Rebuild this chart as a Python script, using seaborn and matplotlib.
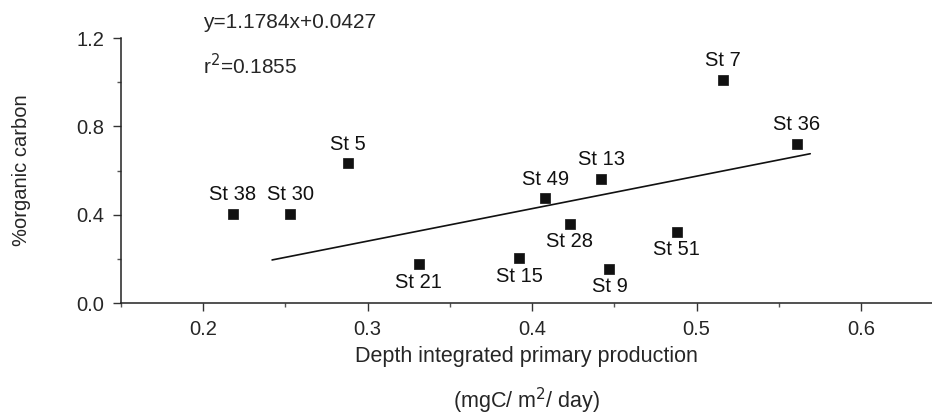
import numpy as np
import pandas as pd
import matplotlib
matplotlib.use("Agg")
import matplotlib.pyplot as plt
import seaborn as sns
from matplotlib.ticker import MultipleLocator

# station data
stations = ["St 38", "St 30", "St 5", "St 21", "St 15", "St 49",
            "St 28", "St 13", "St 9", "St 51", "St 7", "St 36"]
production = [0.218, 0.253, 0.288, 0.331, 0.392, 0.408,
              0.423, 0.442, 0.447, 0.488, 0.516, 0.561]
org_carbon = [0.403, 0.403, 0.633, 0.175, 0.202, 0.474,
              0.359, 0.562, 0.154, 0.321, 1.012, 0.721]
label_side = ["up", "up", "up", "down", "down", "up",
              "down", "up", "down", "down", "up", "up"]

# regression line as drawn in the figure (end points)
fit_x = [0.242, 0.569]
fit_y = [0.195, 0.676]

df = pd.DataFrame({"station": stations, "x": production, "y": org_carbon, "side": label_side})

sns.set_style("ticks")
plt.rcParams['font.family'] = ['Liberation Sans', 'DejaVu Sans']

fig = plt.figure(figsize=(9.32, 4.19), dpi=100)
ax = fig.add_axes([0.1295, 0.2768, 0.8705, 0.6325])

sns.lineplot(x=fit_x, y=fit_y, color="#111111", linewidth=1.2, ax=ax)
sns.scatterplot(data=df, x="x", y="y", marker="s", s=50, color="#111111",
                edgecolor="#111111", linewidth=0.5, ax=ax, zorder=3)

for _, r in df.iterrows():
    if r["side"] == "up":
        ax.annotate(r["station"], (r["x"], r["y"]), xytext=(0, 7), textcoords="offset points",
                    ha="center", va="bottom", fontsize=14.5, color="#111111")
    else:
        ax.annotate(r["station"], (r["x"], r["y"]), xytext=(0, -6), textcoords="offset points",
                    ha="center", va="top", fontsize=14.5, color="#111111")

ax.set_xlim(0.15, 0.643)
ax.set_ylim(0.0, 1.2)
ax.xaxis.set_major_locator(MultipleLocator(0.1))
ax.xaxis.set_minor_locator(MultipleLocator(0.05))
ax.yaxis.set_major_locator(MultipleLocator(0.4))
ax.yaxis.set_minor_locator(MultipleLocator(0.2))
ax.xaxis.set_major_formatter(plt.FuncFormatter(lambda v, p: f"{v:.1f}"))
ax.yaxis.set_major_formatter(plt.FuncFormatter(lambda v, p: f"{v:.1f}"))
ax.tick_params(which="major", length=6, width=1, labelsize=14.5, color="#333333", pad=6)
ax.tick_params(which="minor", length=3, width=1, color="#555555")

sns.despine(ax=ax)
for s in ["left", "bottom"]:
    ax.spines[s].set_color("#222222")
    ax.spines[s].set_linewidth(1.1)

ax.set_xlabel("")
ax.set_ylabel("%organic carbon", fontsize=14.5)
ax.yaxis.set_label_coords(-0.11, 0.5)
fig.text(0.565, 0.148, "Depth integrated primary production", ha="center", va="center",
         fontsize=15.5)
fig.text(0.565, 0.008, "(mgC/ m$^2$/ day)", ha="center", va="bottom", fontsize=15.5)

fig.text(0.218, 0.947, "y=1.1784x+0.0427", ha="left", va="center", fontsize=15)
fig.text(0.218, 0.843, "r$^2$=0.1855", ha="left", va="center", fontsize=15)

fig.savefig("out.png", dpi=100)
